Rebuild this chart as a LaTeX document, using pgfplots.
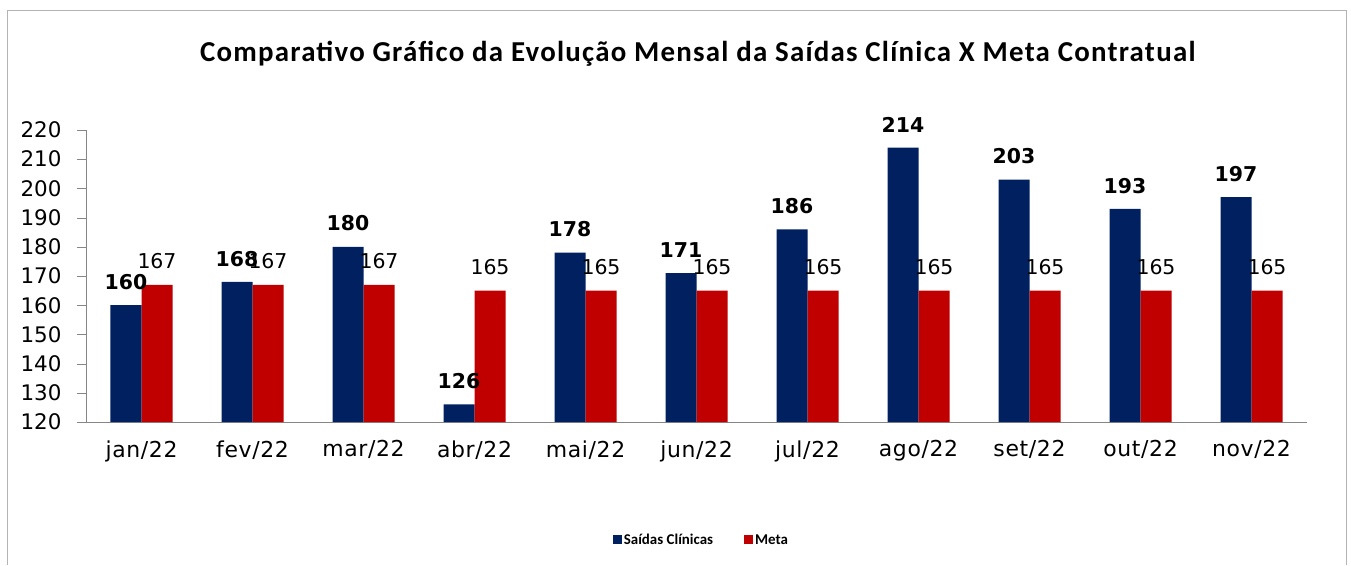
\documentclass[border=0pt]{standalone}
\usepackage{pgfplots}
\pgfplotsset{compat=1.18}
\usepackage{fontspec}
\setmainfont{Carlito}
\newfontfamily\titlefont[LetterSpace=4.3]{Carlito}
\newfontfamily\dv{DejaVu Sans}
\newfontfamily\dvx[LetterSpace=3]{DejaVu Sans}
\definecolor{azul}{RGB}{0,32,96}
\definecolor{verm}{RGB}{192,0,0}
\definecolor{eixo}{RGB}{134,134,134}
\definecolor{moldura}{RGB}{180,180,180}

\begin{document}
\begin{tikzpicture}
\begin{axis}[
    name=ax,
    scale only axis,
    width=1221bp, height=292bp,
    ybar=0pt, bar width=31bp,
    xmin=-0.5, xmax=10.5,
    ymin=120, ymax=220,
    ytick={120,130,...,220},
    xtick={0,...,10},
    xticklabels={jan/22,fev/22,mar/22,abr/22,mai/22,jun/22,jul/22,ago/22,set/22,out/22,nov/22},
    minor xtick={-0.5,0.5,...,10.5},
    axis x line*=bottom, axis y line*=left,
    axis line style={eixo,-},
    tick align=outside,
    major tick length=9bp, minor tick length=9bp,
    xtick style={draw=none},
    minor x tick style={eixo},
    ytick style={eixo},
    yticklabel style={font=\dv\fontsize{21.5}{24}\selectfont, xshift=-12bp},
    xticklabel style={font=\dvx\fontsize{22}{26}\selectfont, yshift=-6bp},
    /pgf/number format/assume math mode=true,
    nodes near coords,
    nodes near coords style={font=\dv\fontsize{20.5}{24}\selectfont, text=black, yshift=12bp},
    legend columns=2,
    legend style={at={(0.504,-0.404)}, anchor=center, draw=none,
        font=\bfseries\fontsize{15}{17}\selectfont,
        /tikz/every even column/.append style={column sep=29bp}},
    legend image code/.code={\fill[#1,draw=none] (0bp,-4.5bp) rectangle (9bp,4.5bp);},
    clip=false,
]
\addplot[fill=azul, draw=none, nodes near coords style={font=\dv\bfseries\fontsize{20.5}{24}\selectfont}] coordinates {
    (0,160) (1,168) (2,180) (3,126) (4,178) (5,171) (6,186) (7,214) (8,203) (9,193) (10,197)};
\addlegendentry{Saídas Clínicas}
\addplot[fill=verm, draw=none] coordinates {
    (0,167) (1,167) (2,167) (3,165) (4,165) (5,165) (6,165) (7,165) (8,165) (9,165) (10,165)};
\addlegendentry{Meta}
\node[font=\titlefont\bfseries\fontsize{29}{34}\selectfont, anchor=center] at (axis description cs:0.501,1.26)
    {Comparativo Gráfico da Evolução Mensal da Saídas Clínica X Meta Contratual};
\end{axis}
\draw[moldura] ([shift={(-79bp,-143bp)}]ax.south west) -- ([shift={(-79bp,120bp)}]ax.north west)
    -- ([shift={(39bp,120bp)}]ax.north east) -- ([shift={(39bp,-143bp)}]ax.south east);
\path ([shift={(-86bp,-143bp)}]ax.south west) rectangle ([shift={(44bp,130bp)}]ax.north east);
\end{tikzpicture}
\end{document}
